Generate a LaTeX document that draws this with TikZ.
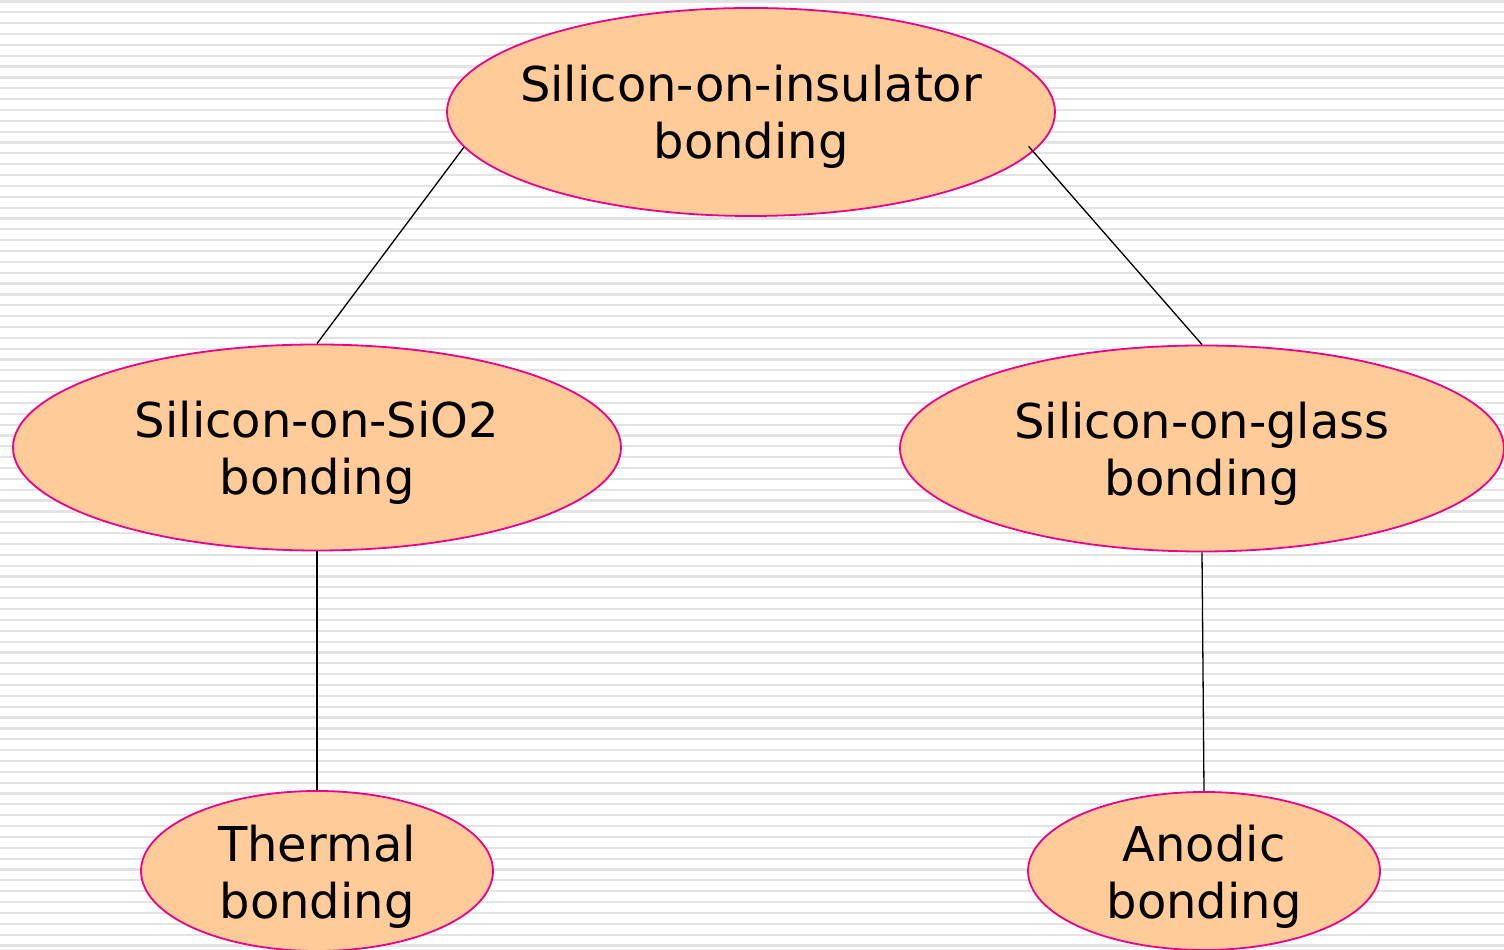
\documentclass[tikz,border=0pt]{standalone}
\usepackage{fontspec}
\setmainfont{DejaVu Sans}
\usetikzlibrary{shapes.geometric}
\newcommand\topstrut{\rule{0pt}{47pt}}
\begin{document}
\begin{tikzpicture}[x=1pt,y=1pt,
  oval/.style={ellipse, draw=magenta, line width=1.8pt, fill={rgb,255:red,255;green,204;blue,153},
    inner xsep=-40pt, inner ysep=-20pt, font=\fontsize{48}{57}\selectfont, align=center},
  link/.style={draw=black, line width=1.3pt}]
\useasboundingbox (0,0) rectangle (1504,950);
\fill[white] (0,0) rectangle (1504,950);
\foreach \i in {0,...,88} {
  \draw[line width=2.2pt, black!11] (0,{950-1.5-10.85*\i}) -- (1504,{950-1.5-10.85*\i});
}
\node[oval, minimum width=608pt, minimum height=208pt] (top) at (751,838) {\topstrut Silicon-on-insulator\\bonding};
\node[oval, minimum width=608pt, minimum height=206pt] (left) at (317,502.5) {\topstrut Silicon-on-SiO2\\bonding};
\node[oval, minimum width=604pt, minimum height=206pt] (right) at (1202,501.5) {\topstrut Silicon-on-glass\\bonding};
\node[oval, minimum width=352pt, minimum height=160pt] (tl) at (317,79) {\topstrut Thermal\\bonding};
\node[oval, minimum width=352pt, minimum height=158pt] (tr) at (1204,79) {\topstrut Anodic\\bonding};
\draw[link] (top.187.9) -- (left.north);
\draw[link, shorten <=-7pt] (top.-8.3) -- (right.north);
\draw[link] (left.south) -- (tl.north);
\draw[link] (right.south) -- (tr.north);
\end{tikzpicture}
\end{document}
